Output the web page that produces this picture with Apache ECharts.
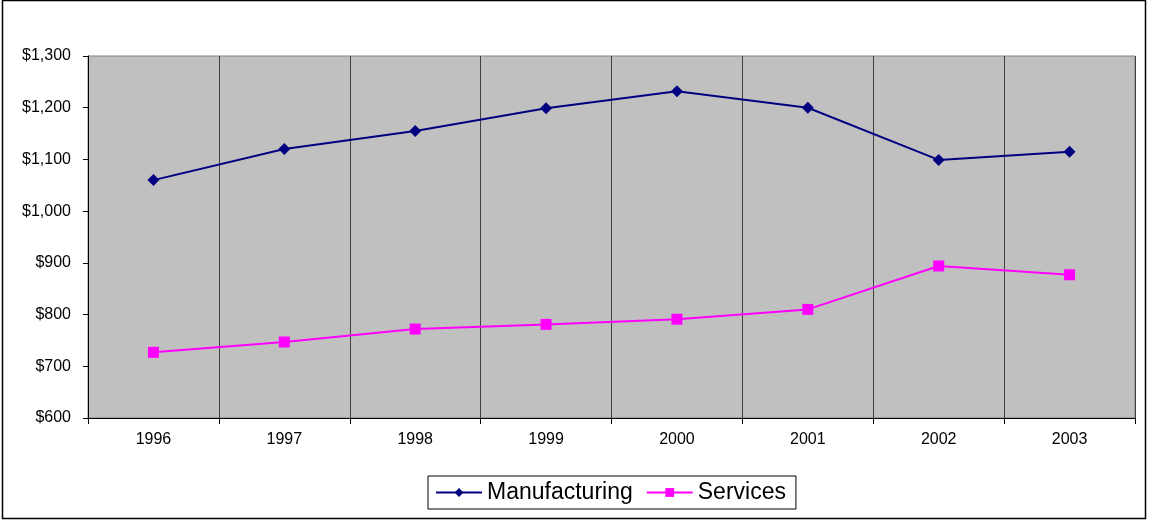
<!DOCTYPE html>
<html><head><meta charset="utf-8">
<script src="https://cdn.jsdelivr.net/npm/echarts@6/dist/echarts.min.js"></script>
<style>html,body{margin:0;padding:0;background:#fff;}#c{width:1149px;height:521px;}</style>
</head><body><div id="c"></div>
<script>
var years = ['1996','1997','1998','1999','2000','2001','2002','2003'];
var manufacturing = [1060, 1120, 1155, 1199, 1232, 1200, 1099, 1115];
var services = [727, 747, 772, 781, 791, 810, 894, 877];
var yMin = 600, yMax = 1300, yStep = 100;

var chart = echarts.init(document.getElementById('c'), null, {renderer:'canvas'});
var font = 'Arial, "Liberation Sans", sans-serif';
chart.setOption({
  animation: false,
  backgroundColor: '#fff',
  graphic: [{type:'rect', shape:{x:2.5, y:0.5, width:1143, height:518}, style:{fill:'none', stroke:'#000', lineWidth:1.5}, z:-1}],
  grid: {left: 88, right: 14, top: 56, bottom: 103, show: true, backgroundColor: '#C0C0C0', borderColor: '#808080', borderWidth: 1},
  legend: {
    bottom: 12, left: 428,
    data: ['Manufacturing','Services'],
    itemWidth: 46, itemHeight: 11, itemGap: 13,
    borderColor: '#000', borderWidth: 1, padding: [5, 10, 5, 7],
    textStyle: {fontFamily: font, fontSize: 23, color: '#000'},
    backgroundColor: '#fff'
  },
  xAxis: {
    type: 'category', data: years, boundaryGap: true,
    axisLine: {lineStyle: {color: '#000', width: 1}},
    axisTick: {show: true, length: 6, lineStyle: {color: '#000'}},
    axisLabel: {fontFamily: font, fontSize: 16, color: '#000', margin: 14},
    splitLine: {show: true, lineStyle: {color: '#404040', width: 1}}
  },
  yAxis: {
    type: 'value', min: yMin, max: yMax, interval: yStep,
    axisLine: {show: true, lineStyle: {color: '#000', width: 1}},
    axisTick: {show: true, length: 5, lineStyle: {color: '#000'}},
    axisLabel: {fontFamily: font, fontSize: 16, color: '#000', margin: 17,
      formatter: function(v){ return '$' + v.toLocaleString('en-US'); }},
    splitLine: {show: false}
  },
  series: [
    {name: 'Manufacturing', type: 'line', data: manufacturing, symbol: 'diamond', symbolSize: 12,
     itemStyle: {color: '#000080'}, lineStyle: {color: '#000080', width: 2}},
    {name: 'Services', type: 'line', data: services, symbol: 'rect', symbolSize: 11,
     itemStyle: {color: '#FF00FF'}, lineStyle: {color: '#FF00FF', width: 2}}
  ]
});
</script></body></html>
